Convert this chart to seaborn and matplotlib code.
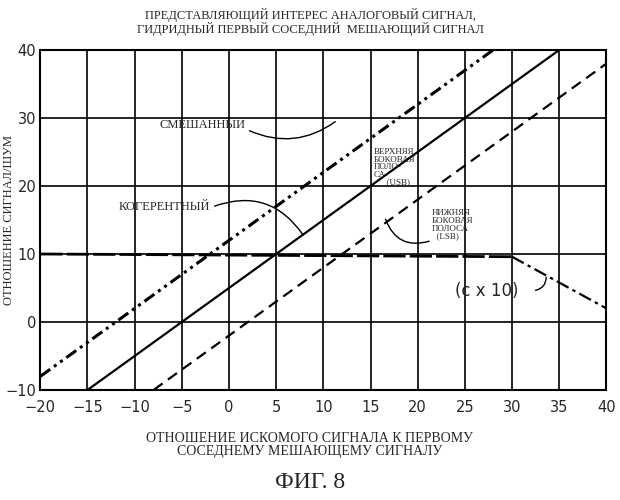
import matplotlib
matplotlib.use("Agg")
import matplotlib.pyplot as plt
import seaborn as sns

x_mixed = [-20, 28]
y_mixed = [-8, 40]
x_coh = [-15, 35]
y_coh = [-10, 40]
x_lsb = [-8, 40]
y_lsb = [-10, 38]
x_flat = [-20, 30]
y_flat = [10, 9.6]
x_c10 = [30, 40]
y_c10 = [9.6, 2]
xticks = [-20, -15, -10, -5, 0, 5, 10, 15, 20, 25, 30, 35, 40]
yticks = [-10, 0, 10, 20, 30, 40]

sns.set_style("white")
fig = plt.figure(figsize=(6.2, 5.0), dpi=100)
ax = fig.add_axes([0.065, 0.22, 0.913, 0.68])
ser = "Liberation Serif"
for xv, yv, ls, lw in [(x_mixed, y_mixed, (0, (4, 1.5, 1, 1.5, 1, 1.5)), 2.2),
                       (x_coh, y_coh, "-", 1.6),
                       (x_lsb, y_lsb, (0, (5, 3)), 1.6),
                       (x_flat, y_flat, (0, (8, 1.5)), 2.0),
                       (x_c10, y_c10, (0, (6, 2, 1.5, 2)), 1.6)]:
    sns.lineplot(x=xv, y=yv, ax=ax, color="black", linestyle=ls, linewidth=lw)
ax.set_xlim(-20, 40)
ax.set_ylim(-10, 40)
ax.set_xticks(xticks)
ax.set_yticks(yticks)
ax.grid(True, color="black", linewidth=1.2)
for s in ax.spines.values():
    s.set_color("black"); s.set_linewidth(1.5)
ax.tick_params(axis="x", length=0, labelsize=10.5, pad=7)
ax.tick_params(axis="y", length=0, labelsize=10.5, pad=3)
ax.set_ylabel("")

arc = dict(arrowstyle="-", color="black", linewidth=1)
ax.text(1.8, 28.6, "СМЕШАННЫЙ", fontfamily=ser, fontsize=9, ha="right")
ax.annotate("", xy=(11.5, 29.7), xytext=(1.9, 28.3),
            arrowprops=dict(arc, connectionstyle="arc3,rad=0.3"))
ax.text(-2, 16.5, "КОГЕРЕНТНЫЙ", fontfamily=ser, fontsize=9, ha="right")
ax.annotate("", xy=(8.0, 12.5), xytext=(-1.8, 16.9),
            arrowprops=dict(arc, connectionstyle="arc3,rad=-0.4"))
ax.text(15.3, 20.2, "ВЕРХНЯЯ\nБОКОВАЯ\nПОЛО-\nСА\n      (USB)", fontfamily=ser, fontsize=6.5,
        linespacing=0.95)
ax.text(21.5, 12.3, "НИЖНЯЯ\nБОКОВАЯ\nПОЛОСА\n  (LSB)", fontfamily=ser, fontsize=6.5,
        linespacing=0.95)
ax.annotate("", xy=(16.5, 15.5), xytext=(21.5, 12.0),
            arrowprops=dict(arc, connectionstyle="arc3,rad=-0.5"))
ax.text(24, 3.8, "(c x 10)", fontsize=12)
ax.annotate("", xy=(33.6, 7), xytext=(32.2, 4.6),
            arrowprops=dict(arc, connectionstyle="arc3,rad=0.5"))

fig.text(0.015, 0.56, "ОТНОШЕНИЕ СИГНАЛ/ШУМ", rotation=90, ha="center", va="center",
         fontfamily=ser, fontsize=9)
fig.text(0.5, 0.955, "ПРЕДСТАВЛЯЮЩИЙ ИНТЕРЕС АНАЛОГОВЫЙ СИГНАЛ,\nГИДРИДНЫЙ ПЕРВЫЙ СОСЕДНИЙ  МЕШАЮЩИЙ СИГНАЛ",
         ha="center", va="center", fontfamily=ser, fontsize=9, linespacing=1.0)
fig.text(0.5, 0.11, "ОТНОШЕНИЕ ИСКОМОГО СИГНАЛА К ПЕРВОМУ\nСОСЕДНЕМУ МЕШАЮЩЕМУ СИГНАЛУ",
         ha="center", va="center", fontfamily=ser, fontsize=10, linespacing=1.0)
fig.text(0.5, 0.035, "ФИГ. 8", ha="center", va="center", fontfamily=ser, fontsize=17)
fig.savefig("out.png", dpi=100)
